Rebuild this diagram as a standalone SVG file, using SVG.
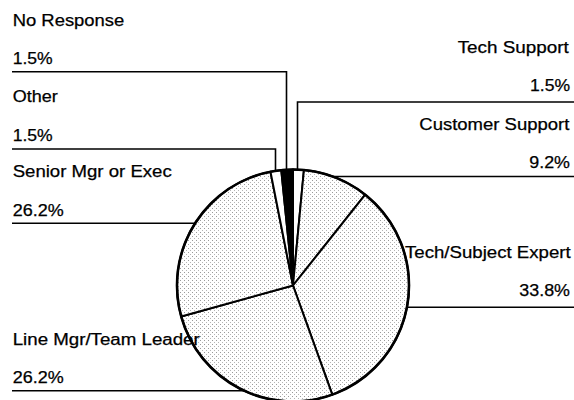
<svg xmlns="http://www.w3.org/2000/svg" width="574" height="400" viewBox="0 0 574 400">
<defs>
<pattern id="stip" width="4" height="4" patternUnits="userSpaceOnUse">
<rect width="4" height="4" fill="#ffffff"/>
<rect x="0" y="0" width="1" height="1" fill="#9a9a9a"/>
<rect x="2" y="2" width="1" height="1" fill="#b5b5b5"/>
</pattern>
<style>
.lbl{font-family:"Liberation Sans",Arial,sans-serif;font-size:16px;fill:#000;stroke:#000;stroke-width:0.25;}
.lead{fill:none;stroke:#000;stroke-width:1.6;}
.sl{stroke:#000;stroke-width:2;stroke-linejoin:round;}
.tex{fill:url(#stip);}
</style>
</defs>
<rect width="574" height="400" fill="#ffffff"/>
<g id="connectors">
<polyline class="lead" points="12,71.7 286.5,71.7 286.5,175"/>
<polyline class="lead" points="12,149 275.5,149 275.5,175"/>
<polyline class="lead" points="12,223.3 200,223.3"/>
<polyline class="lead" points="12,390.7 250,390.7"/>
<polyline class="lead" points="574,102 297.5,102 297.5,175"/>
<polyline class="lead" points="574,176.5 330,176.5"/>
<polyline class="lead" points="574,307.3 400,307.3"/>
</g>
<g id="pie">
<path id="slice-tech-support" class="sl" fill="#ffffff" d="M293,285.5 L293,169.5 A116,116 0 0 1 303.92,170.01 Z"/>
<path id="slice-customer-support" class="sl tex" d="M293,285.5 L303.92,170.01 A116,116 0 0 1 365.21,194.72 Z"/>
<path id="slice-tech-subject-expert" class="sl tex" d="M293,285.5 L365.21,194.72 A116,116 0 0 1 332.29,394.65 Z"/>
<path id="slice-line-mgr" class="sl tex" d="M293,285.5 L332.29,394.65 A116,116 0 0 1 181.22,316.5 Z"/>
<path id="slice-senior-mgr" class="sl tex" d="M293,285.5 L181.22,316.5 A116,116 0 0 1 270.47,171.7 Z"/>
<path id="slice-other" class="sl" fill="#ffffff" d="M293,285.5 L270.47,171.7 A116,116 0 0 1 281.28,170.09 Z"/>
<path id="slice-no-response" class="sl" fill="#000000" d="M293,285.5 L281.28,170.09 A116,116 0 0 1 293,169.5 Z"/>
<circle cx="293" cy="285.5" r="116" fill="none" stroke="#000" stroke-width="2.6"/>
</g>
<g id="label-no-response">
<text class="lbl" x="12.7" y="26" textLength="111.6" lengthAdjust="spacingAndGlyphs">No Response</text>
<text class="lbl" x="12.7" y="64.3" textLength="40" lengthAdjust="spacingAndGlyphs">1.5%</text>
</g>
<g id="label-other">
<text class="lbl" x="12.7" y="101.7" textLength="45" lengthAdjust="spacingAndGlyphs">Other</text>
<text class="lbl" x="12.7" y="140.7" textLength="40" lengthAdjust="spacingAndGlyphs">1.5%</text>
</g>
<g id="label-senior-mgr">
<text class="lbl" x="12.7" y="176.7" textLength="159" lengthAdjust="spacingAndGlyphs">Senior Mgr or Exec</text>
<text class="lbl" x="12.7" y="216" textLength="51" lengthAdjust="spacingAndGlyphs">26.2%</text>
</g>
<g id="label-line-mgr">
<text class="lbl" x="12.7" y="345" textLength="187" lengthAdjust="spacingAndGlyphs">Line Mgr/Team Leader</text>
<text class="lbl" x="12.7" y="382.7" textLength="51" lengthAdjust="spacingAndGlyphs">26.2%</text>
</g>
<g id="label-tech-support">
<text class="lbl" x="457.7" y="53.3" textLength="111" lengthAdjust="spacingAndGlyphs">Tech Support</text>
<text class="lbl" x="530" y="90.7" textLength="40" lengthAdjust="spacingAndGlyphs">1.5%</text>
</g>
<g id="label-customer-support">
<text class="lbl" x="419.3" y="130" textLength="150" lengthAdjust="spacingAndGlyphs">Customer Support</text>
<text class="lbl" x="529.3" y="168.3" textLength="40.7" lengthAdjust="spacingAndGlyphs">9.2%</text>
</g>
<g id="label-tech-subject-expert">
<text class="lbl" x="405" y="258.3" textLength="165.7" lengthAdjust="spacingAndGlyphs">Tech/Subject Expert</text>
<text class="lbl" x="519.3" y="296" textLength="50.7" lengthAdjust="spacingAndGlyphs">33.8%</text>
</g>
</svg>
